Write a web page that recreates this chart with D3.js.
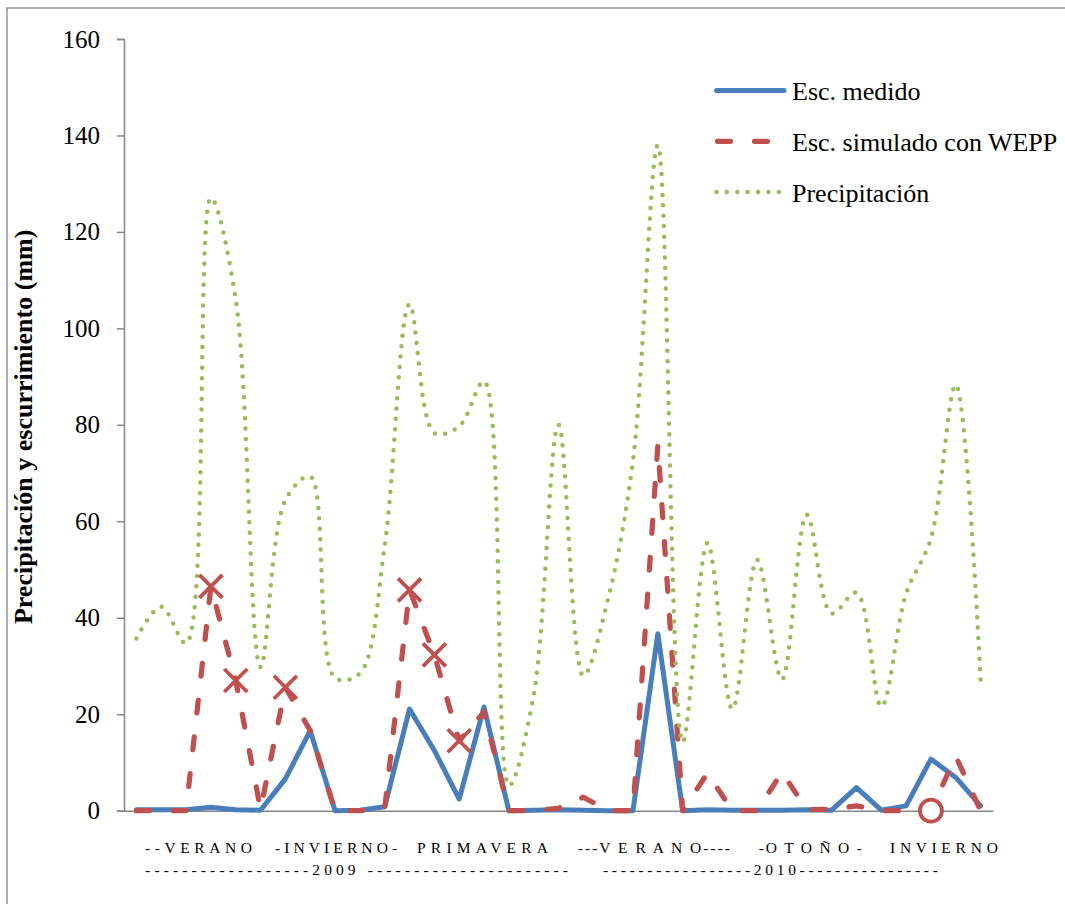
<!DOCTYPE html>
<html>
<head>
<meta charset="utf-8">
<script src="https://cdn.jsdelivr.net/npm/d3@7"></script>
<style>
  html, body { margin: 0; padding: 0; background: #fff; }
  svg { display: block; }
  text { font-family: "Liberation Serif", "Times New Roman", serif; }
</style>
</head>
<body>
<svg id="chart" width="1065" height="904"></svg>
<script>
// Monthly records, summer 2009 to winter 2010
const categories = [1, 2, 3, 4, 5, 6, 7, 8, 9, 10, 11, 12, 13, 14, 15, 16, 17, 18,
  19, 20, 21, 22, 23, 24, 25, 26, 27, 28, 29, 30, 31, 32, 33, 34, 35];

// Measured runoff (mm)
const escMedido = [0.2, 0.2, 0.2, 0.7, 0.2, 0.1, 6.6, 16.6, 0, 0.1, 0.8, 21.1, 12.5, 2.4,
  21.5, 0, 0.1, 0.2, 0.1, 0, 0, 36.7, 0, 0.2, 0.1, 0.1, 0.1, 0.2, 0.1, 4.8, 0.1, 1.0,
  10.7, 6.9, 1.0];

// Runoff simulated with WEPP (mm)
const escSimulado = [0, 0, 0, 46.5, 27, 0.3, 25.6, 16.6, 0, 0, 0.5, 45.8, 32.3, 14.5,
  20.5, 0, 0, 0.5, 2.8, 0, 0, 75.8, 0, 7.8, 0, 0, 8, 0.2, 0.3, 1.0, 0, 0, 0, 11.3, 0];

// Precipitation (mm)
const precipitacion = [35.7, 42.3, 34.7, 127, 106, 29.8, 64.4, 69.3, 27.5, 28.5, 55,
  105, 78.3, 79.7, 89, 5.2, 24, 80, 28, 44, 72.6, 138, 14.2, 55.5, 21.1, 52, 27.2, 61.4,
  40.9, 45.2, 21.6, 45, 56.5, 88.3, 27.2];

// Simulated values flagged with a cross, and the one flagged with a circle
const crossMarked = [4, 5, 7, 12, 13, 14];
const circleMarked = [33];

const yTicks = [0, 20, 40, 60, 80, 100, 120, 140, 160];
const seriesNames = ["Esc. medido", "Esc. simulado con WEPP", "Precipitación"];
const seasonLabels = ["--VERANO", "-INVIERNO-", "PRIMAVERA", "---V E R A N O----",
  "-O T O Ñ O -", "I N V I E R N O"];
const yearLabels = ["------------------2009 ----------------------",
  "-----------------2010----------------"];
const yTitle = "Precipitación y escurrimiento (mm)";

const COLORS = { medido: "#4A7EBB", simulado: "#C0504D", precip: "#9BBB59", axis: "#868686" };

const svg = d3.select("#chart");

// outer chart frame
svg.append("rect")
  .attr("x", 7).attr("y", 8)
  .attr("width", 1080).attr("height", 920)
  .attr("fill", "#fff")
  .attr("stroke", COLORS.axis).attr("stroke-width", 1.3);

const plot = { left: 124, right: 993, top: 39, bottom: 810.7 };

const x = d3.scalePoint().domain(categories).range([plot.left, plot.right]).padding(0.5);
const y = d3.scaleLinear().domain([0, 160]).range([plot.bottom, plot.top]);

// y axis
const yAxis = svg.append("g")
  .attr("transform", `translate(${plot.left},0)`)
  .call(d3.axisLeft(y).tickValues(yTicks).tickSize(7).tickSizeOuter(7).tickPadding(17));
yAxis.selectAll("path, line").attr("stroke", COLORS.axis).attr("stroke-width", 1.5);
yAxis.selectAll("text")
  .attr("font-family", '"Liberation Serif", "Times New Roman", serif')
  .attr("font-size", 25).attr("fill", "#000");

// x axis (baseline only)
const xAxis = svg.append("g")
  .attr("transform", `translate(0,${plot.bottom})`)
  .call(d3.axisBottom(x).tickSize(0).tickSizeOuter(0).tickFormat(""));
xAxis.select("path").attr("stroke", COLORS.axis).attr("stroke-width", 1.5);
xAxis.selectAll(".tick").remove();

// y axis title
svg.append("text")
  .attr("transform", `translate(32,${(plot.top + plot.bottom) / 2 + 2}) rotate(-90)`)
  .attr("text-anchor", "middle")
  .attr("font-size", 26).attr("font-weight", "bold")
  .text(yTitle);

// category labels: seasons on the first row, years on the second
const step = x.step();
const x0 = plot.left;
const seasonSpans = [[0.85, 5.15], [6.08, 11.0], [11.8, 17.08], [18.28, 24.4], [25.57, 29.72], [30.85, 35.2]];
const yearSpans = [[0.85, 17.88], [19.29, 32.78]];
svg.append("g").selectAll("text").data(seasonLabels).join("text")
  .attr("x", (d, i) => x0 + step * seasonSpans[i][0])
  .attr("y", 853)
  .attr("font-size", 15.5)
  .attr("textLength", (d, i) => step * (seasonSpans[i][1] - seasonSpans[i][0]))
  .attr("lengthAdjust", "spacing")
  .text(d => d);
svg.append("g").selectAll("text").data(yearLabels).join("text")
  .attr("x", (d, i) => x0 + step * yearSpans[i][0])
  .attr("y", 875)
  .attr("font-size", 15.5)
  .attr("textLength", (d, i) => step * (yearSpans[i][1] - yearSpans[i][0]))
  .attr("lengthAdjust", "spacing")
  .text(d => d);

const straight = d3.line().x((d, i) => x(categories[i])).y(d => y(d));
const smooth = d3.line().x((d, i) => x(categories[i])).y(d => y(d)).curve(d3.curveCatmullRom.alpha(0.5));

const DASH = "13,24";
const DOT = "0,10.4";

// measured runoff
svg.append("path").datum(escMedido)
  .attr("d", straight).attr("fill", "none")
  .attr("stroke", COLORS.medido).attr("stroke-width", 5)
  .attr("stroke-linejoin", "round").attr("stroke-linecap", "round");

// simulated runoff
svg.append("path").datum(escSimulado)
  .attr("d", straight).attr("fill", "none")
  .attr("stroke", COLORS.simulado).attr("stroke-width", 5.2)
  .attr("stroke-dasharray", DASH)
  .attr("stroke-linejoin", "round").attr("stroke-linecap", "round");

// precipitation
svg.append("path").datum(precipitacion)
  .attr("d", smooth).attr("fill", "none")
  .attr("stroke", COLORS.precip).attr("stroke-width", 4.5)
  .attr("stroke-dasharray", DOT)
  .attr("stroke-linecap", "round");

// markers on the simulated series
const h = 11.5;
svg.append("g").selectAll("path").data(crossMarked).join("path")
  .attr("transform", c => `translate(${x(c)},${y(escSimulado[categories.indexOf(c)])})`)
  .attr("d", `M${-h},${-h}L${h},${h}M${-h},${h}L${h},${-h}`)
  .attr("stroke", COLORS.simulado).attr("stroke-width", 3.8).attr("fill", "none");
svg.append("g").selectAll("circle").data(circleMarked).join("circle")
  .attr("cx", c => x(c))
  .attr("cy", c => y(escSimulado[categories.indexOf(c)]))
  .attr("r", 11)
  .attr("fill", "#fff")
  .attr("stroke", COLORS.simulado).attr("stroke-width", 3.8);

// legend
const legendStyles = [
  { color: COLORS.medido, width: 5, dash: null, cap: "round" },
  { color: COLORS.simulado, width: 5.2, dash: DASH, cap: "round" },
  { color: COLORS.precip, width: 4.5, dash: DOT, cap: "round" }
];
const legend = svg.append("g").attr("transform", "translate(715,0)");
const items = legend.selectAll("g").data(seriesNames).join("g")
  .attr("transform", (d, i) => `translate(0,${100 + i * 50.8})`);
items.append("line")
  .attr("x1", (d, i) => i === 1 ? 2.5 : 1.5).attr("x2", 69)
  .attr("y1", -9.5).attr("y2", -9.5)
  .attr("stroke", (d, i) => legendStyles[i].color)
  .attr("stroke-width", (d, i) => legendStyles[i].width)
  .attr("stroke-dasharray", (d, i) => legendStyles[i].dash)
  .attr("stroke-linecap", (d, i) => legendStyles[i].cap);
items.append("text")
  .attr("x", 77).attr("y", 0)
  .attr("font-size", 26)
  .text(d => d);
</script>
</body>
</html>
